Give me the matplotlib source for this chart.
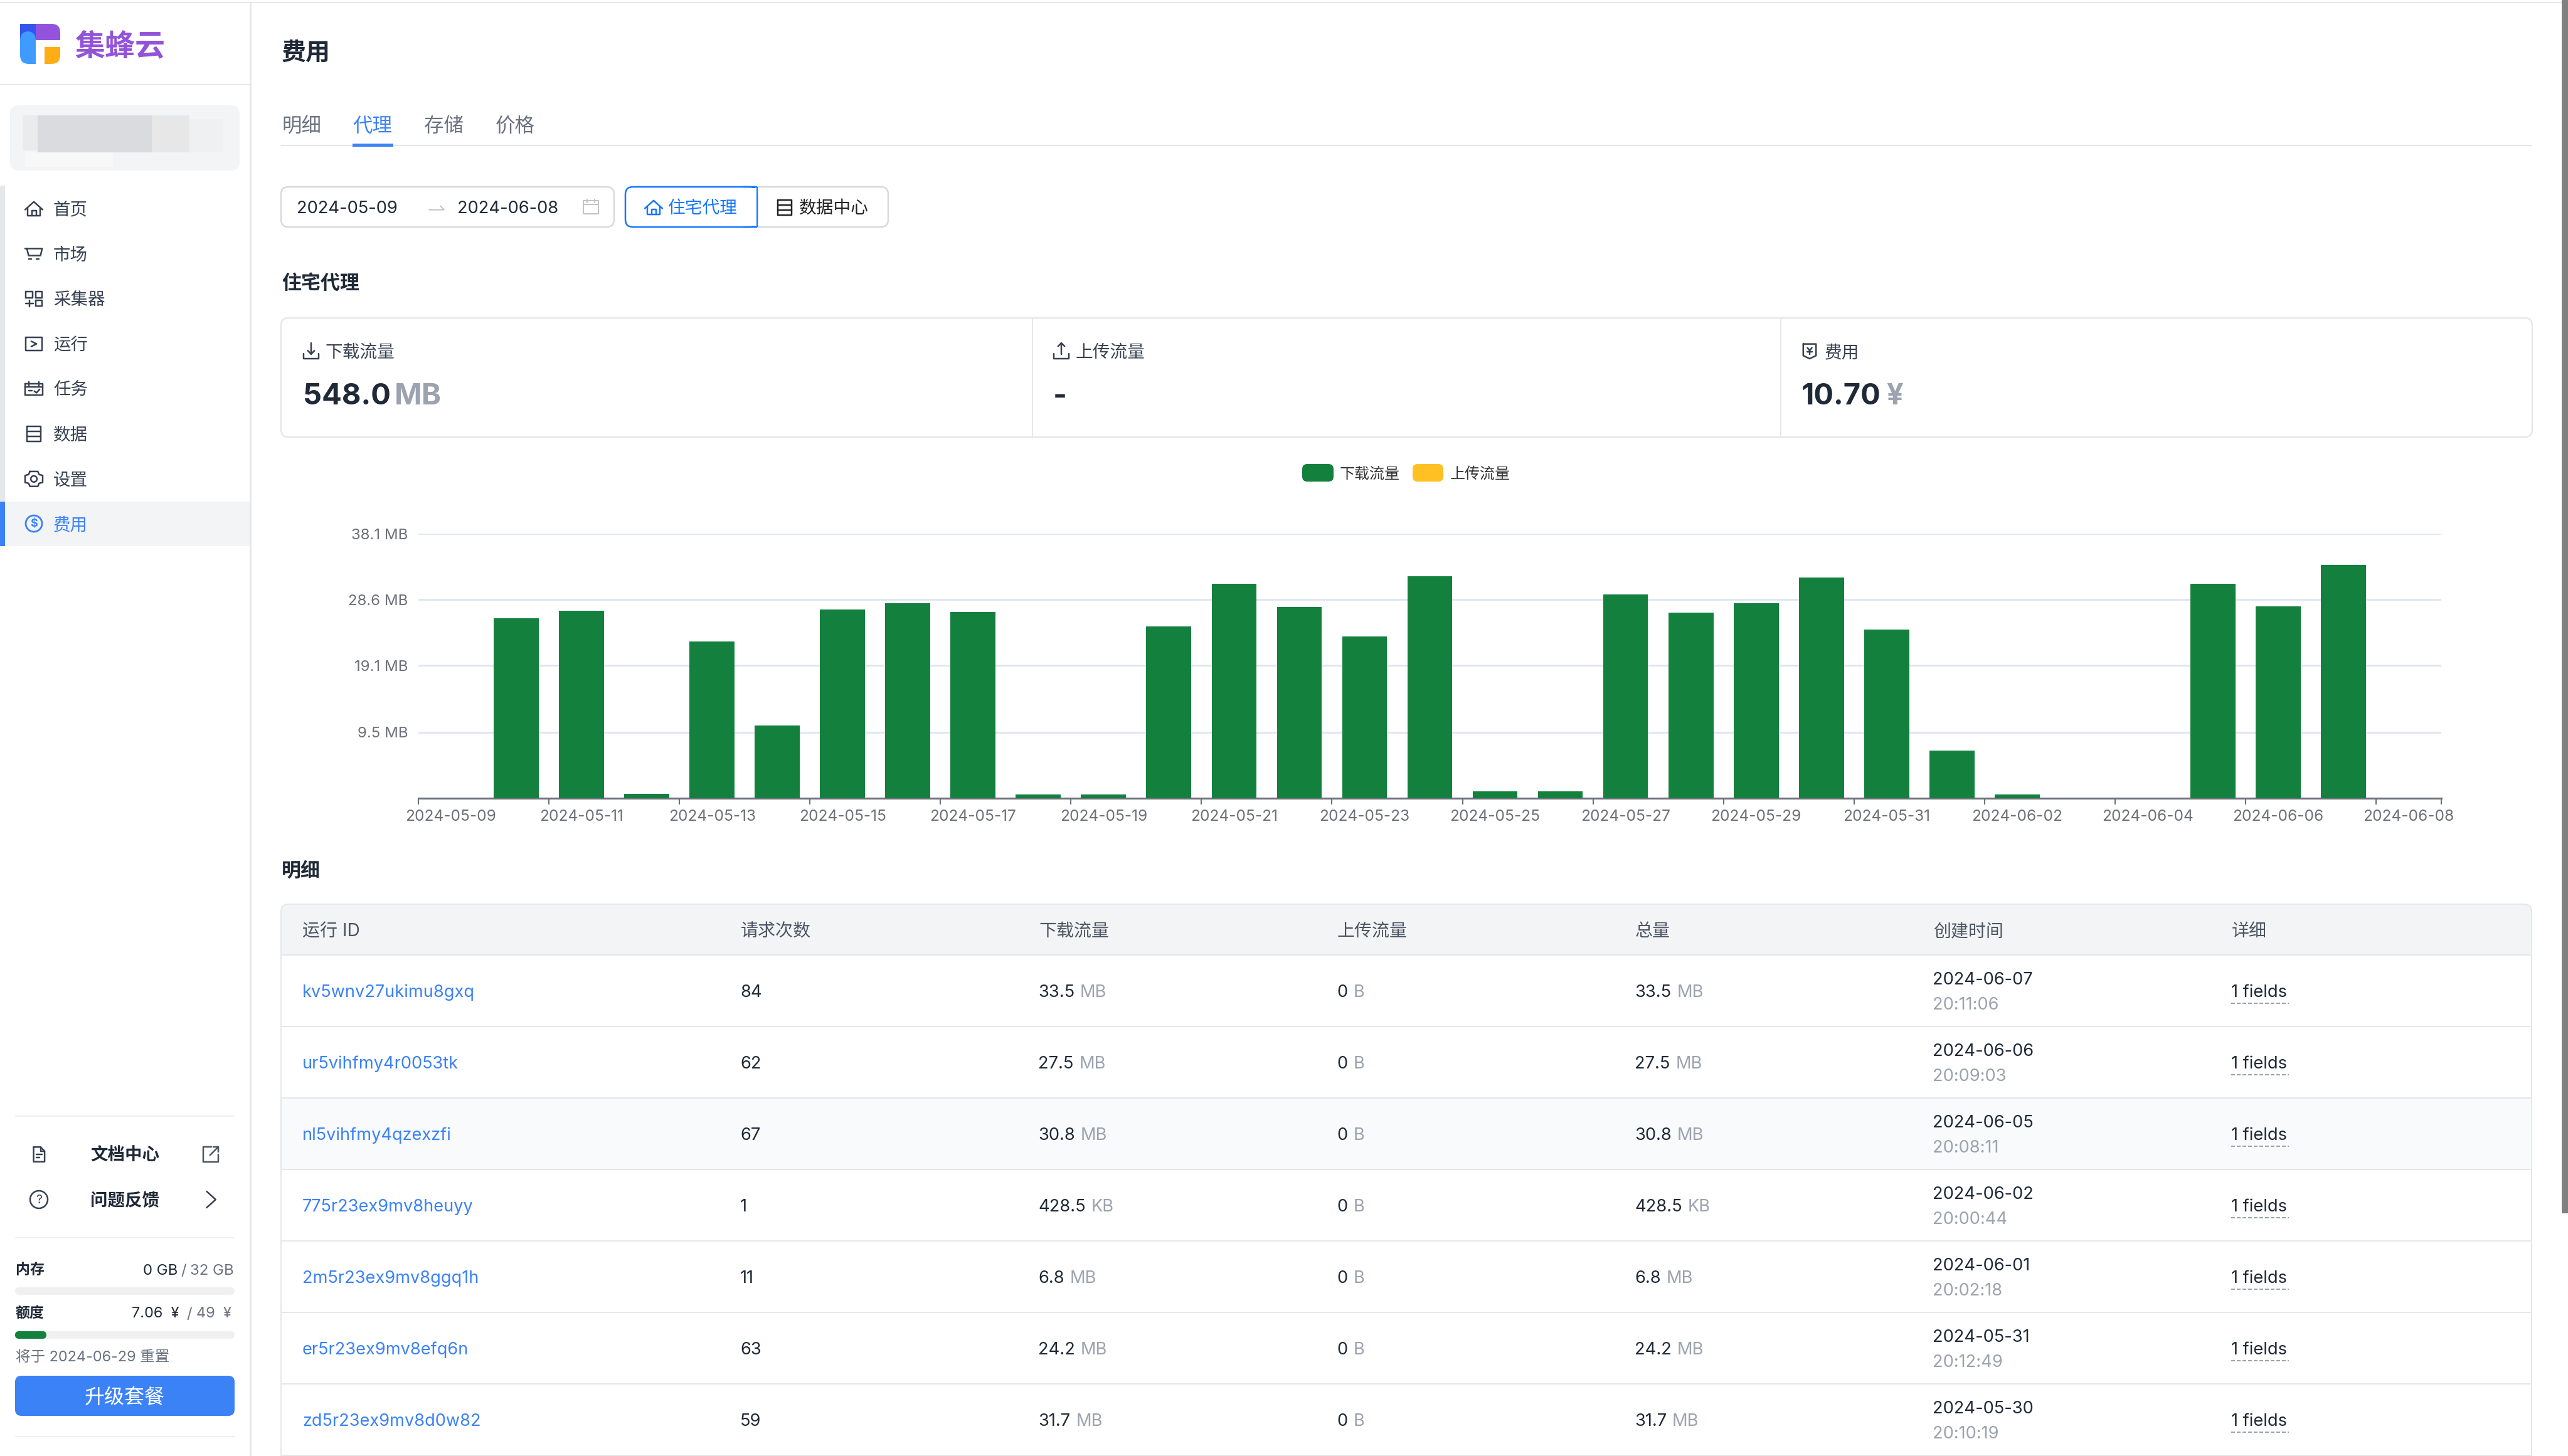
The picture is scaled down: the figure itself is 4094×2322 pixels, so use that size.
import matplotlib
matplotlib.use('Agg')
import matplotlib.pyplot as plt
from matplotlib.patches import Rectangle, FancyBboxPatch, Circle

plt.rcParams['font.family'] = ['Inter', 'Noto Sans CJK SC', 'DejaVu Sans']

W, H = 4094, 2322

# chart data
days = ['2024-05-09', '2024-05-10', '2024-05-11', '2024-05-12', '2024-05-13', '2024-05-14', '2024-05-15', '2024-05-16',
        '2024-05-17', '2024-05-18', '2024-05-19', '2024-05-20', '2024-05-21', '2024-05-22', '2024-05-23', '2024-05-24',
        '2024-05-25', '2024-05-26', '2024-05-27', '2024-05-28', '2024-05-29', '2024-05-30', '2024-05-31', '2024-06-01',
        '2024-06-02', '2024-06-03', '2024-06-04', '2024-06-05', '2024-06-06', '2024-06-07', '2024-06-08']
download_mb = [0, 25.9, 27.0, 0.67, 22.6, 10.5, 27.2, 28.1, 26.8, 0.56, 0.5, 24.7, 30.9, 27.5, 23.3, 32.0,
               0.97, 0.97, 29.3, 26.7, 28.1, 31.8, 24.3, 6.9, 0.5, 0, 0, 30.9, 27.6, 33.6, 0]
upload_mb = [0, 0, 0, 0, 0, 0, 0, 0, 0, 0, 0, 0, 0, 0, 0, 0, 0, 0, 0, 0, 0, 0, 0, 0, 0, 0, 0, 0, 0, 0, 0]
y_ticks = [9.5, 19.1, 28.6, 38.1]
y_labels = ['9.5 MB', '19.1 MB', '28.6 MB', '38.1 MB']

# table data
headers = ['运行 ID', '请求次数', '下载流量', '上传流量', '总量', '创建时间', '详细']
run_ids = ['kv5wnv27ukimu8gxq', 'ur5vihfmy4r0053tk', 'nl5vihfmy4qzexzfi', '775r23ex9mv8heuyy',
           '2m5r23ex9mv8ggq1h', 'er5r23ex9mv8efq6n', 'zd5r23ex9mv8d0w82']
requests = ['84', '62', '67', '1', '11', '63', '59']
down_vals = ['33.5', '27.5', '30.8', '428.5', '6.8', '24.2', '31.7']
down_units = ['MB', 'MB', 'MB', 'KB', 'MB', 'MB', 'MB']
dates = ['2024-06-07', '2024-06-06', '2024-06-05', '2024-06-02', '2024-06-01', '2024-05-31', '2024-05-30']
times = ['20:11:06', '20:09:03', '20:08:11', '20:00:44', '20:02:18', '20:12:49', '20:10:19']
nav_items = ['首页', '市场', '采集器', '运行', '任务', '数据', '设置', '费用']

DARK = '#1f2937'
GRAY = '#6b7280'
LIGHT = '#9ca3af'
BLUE = '#3b82f6'
LINE = '#e5e7eb'
GREEN = '#14803e'

fig = plt.figure(figsize=(W / 100, H / 100), dpi=100, facecolor='white')
bg = fig.add_axes([0, 0, 1, 1])
bg.set_xlim(0, W)
bg.set_ylim(H, 0)
bg.axis('off')


def text(x, y, s, px=28, color=DARK, weight='normal', ha='left'):
    # y is the visual middle of the text, placed through the baseline
    return bg.text(x, y + 0.36 * px, s, fontsize=px * 0.72, color=color, weight=weight, ha=ha, va='baseline')


def rect(x0, y0, x1, y1, color, z=1):
    bg.add_patch(Rectangle((x0, y0), x1 - x0, y1 - y0, fc=color, ec='none', zorder=z))


def rrect(x0, y0, x1, y1, r, fc='none', ec='none', lw=0, z=1):
    bg.add_patch(FancyBboxPatch((x0, y0), x1 - x0, y1 - y0, boxstyle=f'round,pad=0,rounding_size={r}',
                                fc=fc, ec=ec, lw=lw * 0.72, zorder=z))


def hline(x0, x1, y, color=LINE, px=2, ls='-'):
    bg.plot([x0, x1], [y, y], color=color, lw=px * 0.72, ls=ls, solid_capstyle='butt', zorder=2)


def vline(x, y0, y1, color=LINE, px=2):
    bg.plot([x, x], [y0, y1], color=color, lw=px * 0.72, solid_capstyle='butt', zorder=2)


def icon(cx, cy, s, paths, color='#374151', px=2.5, circles=()):
    for p in paths:
        bg.plot([cx + a * s for a, b in p], [cy + b * s for a, b in p], color=color, lw=px * 0.72,
                solid_capstyle='round', solid_joinstyle='round', zorder=3)
    for a, b, r in circles:
        bg.add_patch(Circle((cx + a * s, cy + b * s), r * s, fc='none', ec=color, lw=px * 0.72, zorder=3))


def after(t, gap=8):
    # left edge for a text that follows t
    box = t.get_window_extent(fig.canvas.get_renderer())
    return box.x1 + gap


def box_path(x0, y0, x1, y1):
    return [(x0, y0), (x1, y0), (x1, y1), (x0, y1), (x0, y0)]


HOME = [[(-1, 0.1), (0, -0.8), (1, 0.1)], [(-0.7, -0.1), (-0.7, 0.8), (0.7, 0.8), (0.7, -0.1)],
        [(-0.25, 0.8), (-0.25, 0.2), (0.25, 0.2), (0.25, 0.8)]]
CART = [[(-1, -0.6), (0.95, -0.6), (0.75, 0.2), (-0.6, 0.2), (-0.8, -0.6)], [(-0.55, 0.6), (-0.3, 0.6)], [(0.3, 0.6), (0.6, 0.6)]]
GRID = [box_path(-0.9, -0.8, -0.15, -0.15), box_path(0.2, -0.8, 0.9, -0.15), box_path(0.2, 0.2, 0.9, 0.8),
        [(-0.5, 0.15), (-0.5, 0.9)], [(-0.9, 0.5), (-0.1, 0.5)]]
PLAY = [box_path(-0.95, -0.75, 0.95, 0.75), [(-0.3, -0.3), (0.3, 0), (-0.3, 0.3)]]
CAL = [box_path(-1, -0.6, 1, 0.7), [(-1, -0.2), (1, -0.2)], [(-0.6, -0.8), (-0.6, -0.4)], [(0.6, -0.8), (0.6, -0.4)],
       [(0.05, 0.25), (0.3, 0.45), (0.65, 0.05)], [(-0.6, 0.2), (-0.2, 0.2)]]
LIST = [box_path(-0.8, -0.85, 0.8, 0.85), [(-0.8, -0.3), (0.8, -0.3)], [(-0.8, 0.3), (0.8, 0.3)]]
GEAR = [[(-0.45, -0.85), (0.45, -0.85), (0.6, -0.5), (1, -0.4), (1, 0.4), (0.6, 0.5), (0.45, 0.85), (-0.45, 0.85),
         (-0.6, 0.5), (-1, 0.4), (-1, -0.4), (-0.6, -0.5), (-0.45, -0.85)]]
nav_icons = [HOME, CART, GRID, PLAY, CAL, LIST, GEAR, []]
DOC = [[(-0.65, -0.9), (0.2, -0.9), (0.7, -0.4), (0.7, 0.9), (-0.65, 0.9), (-0.65, -0.9)],
       [(0.2, -0.9), (0.2, -0.4), (0.7, -0.4)], [(-0.3, 0), (0.35, 0)], [(-0.3, 0.4), (0.1, 0.4)]]
DOWN = [[(0, -1), (0, 0.35)], [(-0.4, -0.05), (0, 0.35), (0.4, -0.05)], [(-0.9, 0.3), (-0.9, 0.9), (0.9, 0.9), (0.9, 0.3)]]
UP = [[(0, 0.35), (0, -1)], [(-0.4, -0.6), (0, -1), (0.4, -0.6)], [(-0.9, 0.3), (-0.9, 0.9), (0.9, 0.9), (0.9, 0.3)]]
BILL = [[(-0.85, -0.95), (0.85, -0.95), (0.85, 0.6), (0, 1), (-0.85, 0.6), (-0.85, -0.95)],
        [(-0.3, -0.45), (0, -0.1), (0.3, -0.45)], [(0, -0.1), (0, 0.45)], [(-0.3, 0.1), (0.3, 0.1)]]

# page frame
hline(0, W, 4, LINE, 2)
vline(399, 4, H, LINE, 3)
hline(0, 398, 135, LINE, 2)

# logo
rrect(57, 38, 96, 64, 14, fc='#9353dd')
rect(57, 38, 78, 64, '#9353dd')
rect(57, 52, 96, 64, '#9353dd')
rect(32, 38, 57, 64, '#3355ee')
rrect(32, 50, 57, 102, 14, fc='#3f9bff')
rect(32, 64, 57, 80, '#3f9bff')
rect(44, 64, 57, 102, '#3f9bff')
rrect(71, 75, 96, 102, 14, fc='#ffad14')
rect(71, 75, 96, 88, '#ffad14')
rect(71, 75, 82, 102, '#ffad14')
text(119, 71, '集蜂云', 48, '#9353d9', 'bold')

# blurred account box
rrect(16, 168, 382, 272, 14, fc='#f3f4f6')
rect(36, 184, 60, 240, '#eaebed', 2)
rect(60, 184, 242, 243, '#d9dbde', 2)
rect(242, 184, 302, 243, '#e7e7e8', 2)
rect(302, 190, 356, 243, '#eff0f1', 2)
rect(40, 243, 180, 266, '#f8f8f9', 2)

# sidebar navigation
rect(0, 296, 8, 800, LINE)
rect(8, 800, 398, 871, '#f3f4f6')
rect(0, 800, 8, 871, BLUE)
for i, label in enumerate(nav_items):
    y = 333 + i * 71.8
    active = label == '费用'
    text(85, y, label, 27.5, BLUE if active else '#374151')
    icon(54, y, 14, nav_icons[i], '#374151')
icon(54, 333 + 6 * 71.8, 14, [], '#374151', circles=[(0, 0, 0.35)])
bg.add_patch(Circle((54, 835), 13, fc='none', ec=BLUE, lw=2))
bg.text(54, 836, '$', fontsize=13, color=BLUE, ha='center', va='center', weight='bold')

# sidebar footer
hline(24, 374, 1780, '#f0f0f0', 2)
text(144, 1841, '文档中心', 27.5, DARK, 'bold')
text(144, 1913, '问题反馈', 27.5, DARK, 'bold')
icon(62, 1841, 13, DOC, '#374151')
icon(62, 1913, 14, [], '#374151', circles=[(0, 0, 1)])
bg.text(62, 1914, '?', fontsize=14, color='#374151', ha='center', va='center')
icon(336, 1841, 12, [[(0.1, -1), (-1, -1), (-1, 1), (1, 1), (1, 0)], [(-0.1, 0.1), (1, -1)], [(0.3, -1), (1, -1), (1, -0.3)]], '#4b5563')
icon(336, 1913, 13, [[(-0.5, -1), (0.6, 0), (-0.5, 1)]], '#374151')
hline(24, 374, 1974, '#f0f0f0', 2)
text(25, 2024, '内存', 23, DARK, 'bold')
text(373, 2024, '32 GB', 24, GRAY, ha='right')
text(293, 2024, '/', 24, GRAY, ha='center')
text(283, 2024, '0 GB', 24, DARK, ha='right')
rrect(24, 2053, 374, 2065, 6, fc='#f0f0f0')
text(25, 2093, '额度', 23, DARK, 'bold')
text(369, 2093, '49  ¥', 23.5, GRAY, ha='right')
text(302, 2093, '/', 24, GRAY, ha='center')
text(286, 2093, '7.06  ¥', 23.5, DARK, ha='right')
rrect(24, 2123, 374, 2135, 6, fc='#f0f0f0')
rrect(24, 2123, 74, 2135, 6, fc=GREEN, z=2)
text(25, 2163, '将于 2024-06-29 重置', 23.5, GRAY)
rrect(24, 2194, 374, 2258, 10, fc=BLUE)
text(199, 2226, '升级套餐', 32, 'white', ha='center')
hline(24, 374, 2291, '#f0f0f0', 2)

# scrollbar
rect(4084, 0, 4094, 1935, '#808080', 5)

# title and tabs
text(449, 82, '费用', 39, DARK, 'bold')
for x, s in zip([449, 562, 676, 790], ['明细', '代理', '存储', '价格']):
    text(x, 199, s, 31.5, BLUE if s == '代理' else GRAY)
hline(448, 4037, 232, LINE, 2)
rect(562, 229, 627, 234, BLUE, 3)

# date picker and segmented control
rrect(448, 298, 979, 362, 12, fc='white', ec='#d9d9d9', lw=2.5)
text(473, 330, '2024-05-09', 27.3, DARK)
text(729, 330, '2024-06-08', 27.3, DARK)
icon(696, 331, 12, [[(-1, 0.3), (1, 0.3), (0.5, -0.2)]], '#c4c4c4', 2)
icon(942, 330, 12, [box_path(-1, -0.8, 1, 0.9), [(-1, -0.3), (1, -0.3)], [(-0.5, -1), (-0.5, -0.6)], [(0.5, -1), (0.5, -0.6)]], '#c4c4c4', 2)
rrect(1180, 298, 1416, 362, 12, fc='white', ec='#d9d9d9', lw=2.5)
rrect(997, 298, 1207, 362, 12, fc='white', ec='#1677ff', lw=2.5, z=2)
rect(1190, 300, 1206, 360, 'white', 3)
hline(1185, 1207, 298, '#1677ff', 2.5)
hline(1185, 1207, 362, '#1677ff', 2.5)
vline(1207, 298, 362, '#1677ff', 2.5)
icon(1042, 331, 14, HOME, '#1677ff')
text(1064, 330, '住宅代理', 27.7, '#1677ff')
icon(1251, 331, 14, LIST, '#222222')
text(1274, 330, '数据中心', 27.7, '#222222')

# stats
text(449, 450, '住宅代理', 31, DARK, 'bold')
rrect(448, 507, 4037, 697, 12, fc='white', ec=LINE, lw=2.5)
vline(1646, 508, 696)
vline(2839, 508, 696)
icon(496, 560, 13, DOWN)
text(518, 560, '下载流量', 27.7, '#374151')
t = text(483, 628, '548.0', 47, DARK, 'bold')
text(after(t, 6), 628, 'MB', 47, LIGHT, 'bold')
icon(1692, 560, 13, UP)
text(1715, 560, '上传流量', 27.7, '#374151')
text(1679, 628, '-', 47, DARK, 'bold')
icon(2885, 560, 12, BILL)
text(2909, 560, '费用', 27.7, '#374151')
t = text(2872, 628, '10.70', 47, DARK, 'bold')
text(after(t, 9), 628, '¥', 47, LIGHT, 'bold')

# legend
rrect(2076, 740, 2126, 768, 8, fc=GREEN)
text(2136, 754, '下载流量', 24, '#333333')
rrect(2252, 740, 2301, 768, 8, fc='#ffc023')
text(2312, 754, '上传流量', 24, '#333333')

# chart
ax = fig.add_axes([667 / W, (H - 1273) / H, (3892 - 667) / W, (1273 - 851) / H], facecolor='none')
xs = list(range(len(days)))
ax.bar(xs, download_mb, width=0.69, color=GREEN, linewidth=0, zorder=3)
ax.bar(xs, upload_mb, bottom=download_mb, width=0.69, color='#ffc023', linewidth=0, zorder=3)
ax.set_xlim(-0.5, len(days) - 0.5)
ax.set_ylim(0, 38.1)
ax.set_yticks(y_ticks, y_labels)
ax.yaxis.grid(True, color='#e0e6f1', lw=2.2)
ax.set_axisbelow(True)
ax.tick_params(axis='y', length=0, pad=12, labelsize=17.3, labelcolor='#6e7079')
for lab in ax.get_yticklabels():
    lab.set_verticalalignment('center_baseline')
ax.set_xticks([i - 0.5 for i in xs[::2]] + [len(days) - 0.5], [''] * 16 + [''])
ax.set_xticks(xs[::2], days[::2], minor=True)
ax.tick_params(axis='x', which='major', length=7, width=1.5, color='#6e7079')
ax.tick_params(axis='x', which='minor', length=0, pad=13, labelsize=17.6, labelcolor='#6e7079')
for side in ['top', 'left', 'right']:
    ax.spines[side].set_visible(False)
ax.spines['bottom'].set_color('#6e7079')
ax.spines['bottom'].set_linewidth(2.2)

# table
col_x = [481, 1180, 1655, 2131, 2606, 3081, 3557]
rows_y = [1523 + 114 * i for i in range(len(run_ids) + 1)]
text(449, 1387, '明细', 31, DARK, 'bold')
rrect(448, 1442, 4036, 1500, 12, fc='#f3f4f6', ec=LINE, lw=2)
rect(449, 1470, 4035, 1523, '#f3f4f6', 2)
vline(448, 1460, H)
vline(4036, 1460, H)
rect(449, rows_y[2], 4035, rows_y[3], '#f9fafb', 0)
hline(448, 4036, 1523)
for x, h in zip(col_x, headers):
    text(x + 1, 1483, h, 28, '#4b5563')
for i, run in enumerate(run_ids):
    y = rows_y[i] + 57
    hline(448, 4036, rows_y[i + 1])
    text(col_x[0] + 1, y, run, 27.2, BLUE)
    text(col_x[1], y, requests[i], 27.3, DARK)
    for x, val, unit in [(col_x[2], down_vals[i], down_units[i]), (col_x[3], '0', 'B'), (col_x[4], down_vals[i], down_units[i])]:
        t = text(x, y, val, 27.3, DARK)
        text(after(t, 9), y, unit, 27.3, LIGHT)
    text(col_x[5], y - 20, dates[i], 27.3, DARK)
    text(col_x[5], y + 20, times[i], 27.3, LIGHT)
    text(col_x[6], y, '1 fields', 27.3, DARK)
    hline(col_x[6], col_x[6] + 92, y + 20, LIGHT, 2, (0, (3, 1.5)))

fig.savefig('out.png', dpi=100)
